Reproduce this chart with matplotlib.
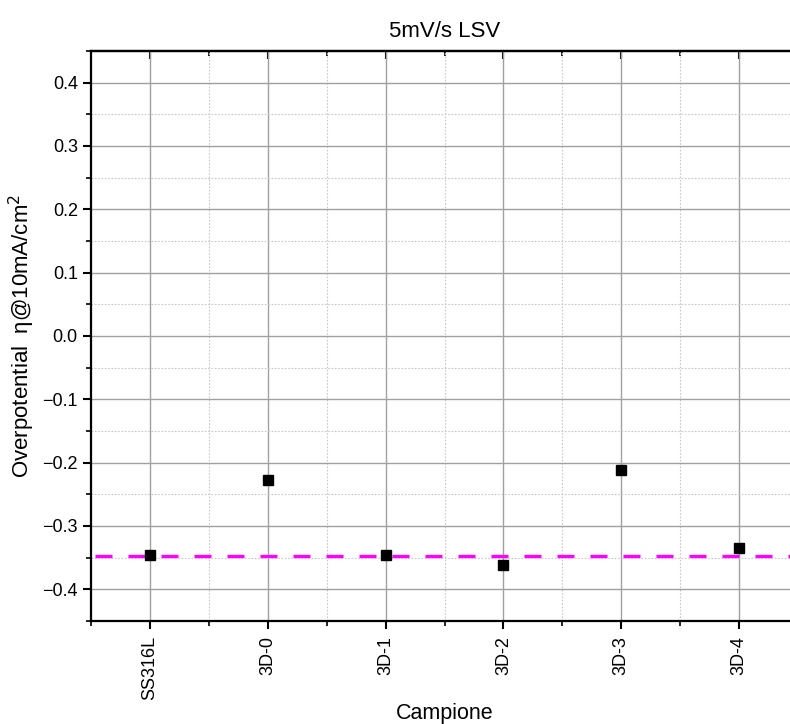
import numpy as np
import matplotlib
matplotlib.use('Agg')
import matplotlib.pyplot as plt
from matplotlib.ticker import MultipleLocator, FixedLocator

plt.rcParams['font.family'] = ['Liberation Sans', 'DejaVu Sans']

samples = ['SS316L', '3D-0', '3D-1', '3D-2', '3D-3', '3D-4']
overpotential = [-0.346, -0.227, -0.346, -0.362, -0.212, -0.335]
reference = -0.347

fig = plt.figure(figsize=(7.9, 7.24), dpi=100)
ax = fig.add_axes([91/790, 1-621/724, (798-91)/790, (621-51)/724])

x = np.arange(len(samples))
ax.axhline(reference, color='#ff00ff', lw=2.4, ls=(8.7, (5.1, 4.8)), zorder=2)
ax.plot(x, overpotential, 's', color='black', ms=7.2, zorder=3)

ax.set_xlim(-0.5, len(samples) - 0.5)
ax.set_ylim(-0.45, 0.45)
ax.set_xticks(x)
ax.set_xticklabels(samples, rotation=90)
minor_x = np.arange(-0.5, len(samples), 1.0)
ax.xaxis.set_minor_locator(FixedLocator(minor_x))
ax.yaxis.set_major_locator(MultipleLocator(0.1))
ax.yaxis.set_minor_locator(MultipleLocator(0.05))
ax.yaxis.set_major_formatter(plt.FuncFormatter(lambda v, p: f'{v:.1f}'.replace('-', '\u2212')))

ax.grid(which='major', color='#a0a0a0', lw=1.0, ls='-')
ax.grid(which='minor', color='#c8c8c8', lw=0.8, ls=(0, (1.5, 1.5)))
ax.set_axisbelow(True)

for s in ax.spines.values():
    s.set_linewidth(1.6)
ax.spines['right'].set_visible(False)

ax.tick_params(axis='both', which='major', direction='out', length=6, width=1.5, labelsize=13)
ax.tick_params(axis='both', which='minor', direction='out', length=3.5, width=1.2)
ax.tick_params(axis='x', which='major', pad=5)

# top axis: inward ticks, no labels
top = ax.secondary_xaxis('top')
top.set_xticks(x)
top.xaxis.set_minor_locator(FixedLocator(minor_x))
top.tick_params(which='major', direction='in', length=6, width=1.5, labeltop=False)
top.tick_params(which='minor', direction='in', length=3.5, width=1.2)
top.spines['top'].set_linewidth(1.6)

ax.set_xlabel('Campione', fontsize=15.5, va='baseline')
ax.xaxis.set_label_coords((444.5 - 91) / (798 - 91), (621 - 719) / (621 - 51))
ax.set_ylabel('Overpotential  \u03b7@10mA/cm$^2$', fontsize=16, va='center')
ax.yaxis.set_label_coords(-(91 - 22) / (798 - 91), 0.5)
ax.set_title('5mV/s LSV', fontsize=16, pad=10)

fig.savefig('out.png', dpi=100)
